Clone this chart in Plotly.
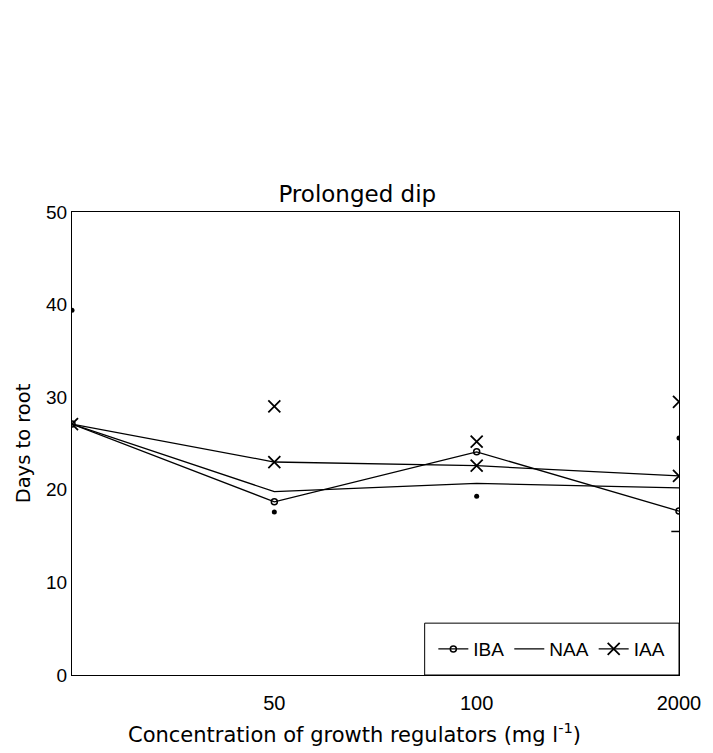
import plotly.graph_objects as go

# ---- data ----
concentrations = ["0", "50", "100", "2000"]
tick_labels = ["50", "100", "2000"]
iba_days = [27.1, 18.7, 24.1, 17.7]
naa_days = [27.1, 19.8, 20.7, 20.2]
iaa_days = [27.1, 23.0, 22.6, 21.5]

# stray individual points drawn in the plot
dot_x = ["0", "50", "100", "2000"]
dot_days = [39.4, 17.6, 19.3, 25.6]
star_x = ["50", "100", "2000"]
star_days = [29.0, 25.2, 29.5]
dash_x = ["2000"]
dash_days = [15.5]

y_ticks = [0, 10, 20, 30, 40, 50]

FONT = "Liberation Sans, Arial, sans-serif"
WIDE = "DejaVu Sans, Verdana, sans-serif"

fig = go.Figure()

fig.add_trace(go.Scatter(
    x=concentrations, y=iba_days, name="IBA", mode="lines+markers",
    line=dict(color="black", width=1.3),
    marker=dict(symbol="circle-open", size=6, color="black", line=dict(width=1.5)),
))
fig.add_trace(go.Scatter(
    x=concentrations, y=naa_days, name="NAA", mode="lines",
    line=dict(color="black", width=1.3),
))
fig.add_trace(go.Scatter(
    x=concentrations, y=iaa_days, name="IAA", mode="lines+markers",
    line=dict(color="black", width=1.3),
    marker=dict(symbol="x-thin-open", size=12, color="black", line=dict(width=1.8, color="black")),
))
fig.add_trace(go.Scatter(
    x=dot_x, y=dot_days, mode="markers", showlegend=False,
    marker=dict(symbol="circle", size=5, color="black"),
))
fig.add_trace(go.Scatter(
    x=star_x, y=star_days, mode="markers", showlegend=False,
    marker=dict(symbol="x-thin-open", size=12, color="black", line=dict(width=1.8, color="black")),
))
fig.add_trace(go.Scatter(
    x=dash_x, y=dash_days, mode="markers", showlegend=False,
    marker=dict(symbol="line-ew-open", size=11, color="black", line=dict(width=1.5, color="black")),
))

# legend frame (layout decoration, in paper units)
LEG_X0, LEG_Y1 = 0.581, 0.112
fig.add_shape(type="rect", xref="paper", yref="paper",
              x0=LEG_X0, x1=1.0, y0=0, y1=LEG_Y1,
              line=dict(color="black", width=1), fillcolor="white", layer="below")

fig.update_layout(
    width=713, height=753,
    margin=dict(l=72, r=25, t=212, b=78),
    paper_bgcolor="white", plot_bgcolor="white",
    font=dict(family=FONT, color="black", size=18),
    title=dict(text="Prolonged dip", x=0.47, xref="paper", xanchor="center",
               y=1, yref="paper", yanchor="bottom", pad=dict(b=10),
               font=dict(size=23, family=WIDE, color="black")),
    showlegend=True,
    legend=dict(orientation="h", x=(LEG_X0 + 1.0) / 2, y=LEG_Y1 / 2,
                xanchor="center", yanchor="middle",
                borderwidth=0, bgcolor="rgba(0,0,0,0)",
                font=dict(size=19, family=FONT, color="black"),
                itemwidth=30, tracegroupgap=0),
    annotations=[dict(
        text="Concentration of growth regulators (mg l<sup>-1</sup>)",
        xref="paper", yref="paper", x=0.466, y=0, yshift=-58,
        xanchor="center", yanchor="middle", showarrow=False,
        font=dict(size=21, family=WIDE, color="black"),
    )],
)

fig.update_xaxes(
    type="category", categoryorder="array", categoryarray=concentrations,
    range=[0, 3], tickvals=concentrations[1:], ticktext=tick_labels,
    showline=True, linecolor="black", linewidth=1, mirror=True,
    showgrid=False, zeroline=False, ticks="",
    tickfont=dict(size=20), ticklabelstandoff=10,
)
fig.update_yaxes(
    range=[0, 50], tickvals=y_ticks,
    showline=True, linecolor="black", linewidth=1, mirror=True,
    showgrid=False, zeroline=False, ticks="",
    tickfont=dict(size=19),
    title=dict(text="Days to root", font=dict(size=19.5, family=WIDE), standoff=10),
)

fig.write_html("out.html")
